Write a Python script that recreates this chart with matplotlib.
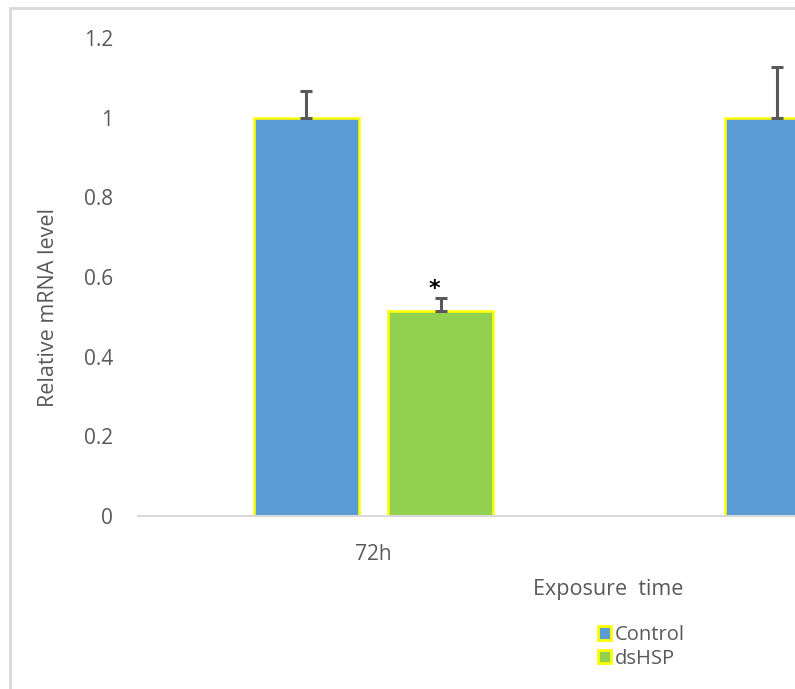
import matplotlib
matplotlib.use("Agg")
import matplotlib.pyplot as plt
from matplotlib.patches import Rectangle, Patch
import numpy as np

plt.rcParams['font.family'] = ['Open Sans', 'DejaVu Sans']

# Data
categories = ["72h", ""]             # second group label is cropped out of the picture
control = [1.0, 1.0]
control_err = [0.067, 0.127]
dshsp = [0.515, np.nan]              # second dsHSP bar not visible in reference
dshsp_err = [0.032, np.nan]
series_names = ["Control", "dsHSP"]

blue = "#5B9BD5"
green = "#92D050"
edge = "#FFFF00"
txt = "#595959"

W, H = 795, 689
fig = plt.figure(figsize=(W / 100, H / 100), dpi=100)

# chart area border (cropped on the right and bottom)
fig.patches.append(Rectangle((10 / W, -0.1), 2.0, (H - 8) / H + 0.1,
                             transform=fig.transFigure, fill=False,
                             edgecolor="#D9D9D9", linewidth=2, zorder=0))

ax = fig.add_axes([138 / W, (H - 516) / H, 942 / W, 478 / H])
x = np.arange(len(categories))
bw = 0.223
off = 0.143

ax.bar(x - off, control, bw, color=blue, edgecolor=edge, linewidth=1.8, zorder=2)
ax.bar(x + off, dshsp, bw, color=green, edgecolor=edge, linewidth=1.8, zorder=2)
ax.errorbar(x - off, control, yerr=[np.zeros(len(control)), control_err],
            fmt='none', ecolor="#595959", elinewidth=2.2, capsize=4.5, capthick=2.2, zorder=3)
ax.errorbar(x + off, dshsp, yerr=[np.zeros(len(dshsp)), dshsp_err],
            fmt='none', ecolor="#595959", elinewidth=2.2, capsize=4.5, capthick=2.2, zorder=3)

# significance star
ax.text(x[0] + off - 0.013, dshsp[0] + dshsp_err[0] + 0.022, "*", ha='center', va='center',
        fontsize=16, fontweight='bold', color='black', family='DejaVu Sans')

ax.set_xlim(-0.5, len(categories) - 0.5)
ax.set_ylim(0, 1.2)
ax.set_yticks([0, 0.2, 0.4, 0.6, 0.8, 1.0, 1.2])
ax.set_yticklabels(["0", "0.2", "0.4", "0.6", "0.8", "1", "1.2"])
ax.set_xticks(x)
ax.set_xticklabels(categories)
ax.tick_params(axis='y', length=0, pad=18, labelsize=15, labelcolor=txt)
ax.tick_params(axis='x', length=0, pad=20, labelsize=15, labelcolor=txt)

for s in ['left', 'top', 'right']:
    ax.spines[s].set_visible(False)
ax.spines['bottom'].set_color("#D9D9D9")
ax.spines['bottom'].set_linewidth(1.5)

ax.set_ylabel("Relative mRNA level", fontsize=15.5, color=txt)
ax.yaxis.label.set_va('center')
ax.yaxis.set_label_coords(-0.095, 0.437)
ax.set_xlabel("Exposure  time", fontsize=15.5, color=txt, va='center')
ax.xaxis.set_label_coords(0.499, -0.153)

handles = [Patch(facecolor=blue, edgecolor=edge, linewidth=2),
           Patch(facecolor=green, edgecolor=edge, linewidth=2)]
leg = fig.legend(handles, series_names, loc='center left',
                 bbox_to_anchor=(588 / W, (H - 647) / H), frameon=False,
                 fontsize=14.5, handlelength=0.65, handleheight=0.65,
                 handletextpad=0.2, labelspacing=0.18, borderpad=0)
for t in leg.get_texts():
    t.set_color(txt)

fig.savefig("out.png", dpi=100)
